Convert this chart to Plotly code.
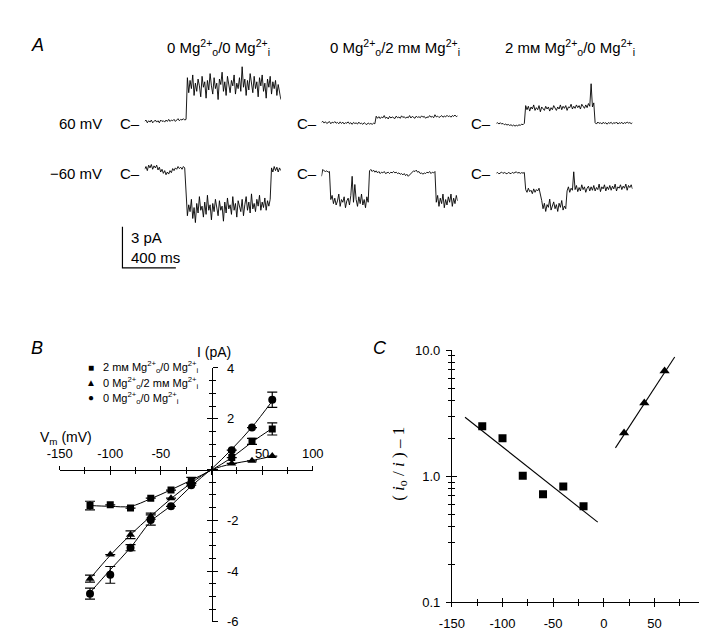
import plotly.graph_objects as go

W, H = 707, 635
def fx(p): return p / W
def fy(p): return 1 - p / H

FONT = "Liberation Sans, Arial, Helvetica, sans-serif"
SAMPLE_MS = 10

# ---------------- Panel A: single-channel records (pA, relative to closed level C) ----------------
rec_60_0o_0i = [0.0, 0.1, -0.1, 0.05, -0.05, 0.1, -0.1, 0.0, 0.1, -0.05, 0.05, -0.1, 0.1, 0.0, 0.05, -0.05,
                0.1, 0.0, 0.15, 0.0, 0.1, 0.05, 0.15, 0.0, 0.1, 0.2, 0.05, 0.15, 0.1, 0.2, 0.1, 0.15,
                3.2, 2.1, 3.0, 2.4, 3.4, 1.9, 2.8, 2.2, 3.1, 2.6, 1.8, 3.3, 2.5, 2.9, 1.7, 3.0, 2.3, 3.5, 2.6, 2.0,
                3.2, 2.4, 2.8, 1.6, 3.1, 2.7, 3.6, 2.2, 2.9, 1.9,
                3.3, 2.5, 2.1, 3.0, 2.6, 3.4, 2.0, 2.8, 2.4, 3.2, 2.2, 4.0, 2.5, 3.1, 1.9, 3.0, 2.3, 3.5, 2.7, 2.1,
                3.3, 2.4, 2.9, 1.8, 3.2, 2.6, 3.4, 2.2, 2.8, 1.7, 3.1, 2.5, 3.3, 2.0, 2.9, 2.4, 3.0, 1.9, 2.7, 2.2, 1.6]
rec_m60_0o_0i = [0.0, 0.2, -0.1, 0.3, 0.1, 0.35, 0.0, 0.25, 0.1, 0.3, -0.05, 0.15, -0.2, 0.0, -0.3, -0.1,
                 -0.4, -0.2, -0.35, -0.1, -0.25, 0.05, -0.1, 0.1, 0.0, 0.2, 0.05, 0.15, 0.0, 0.2, 0.1,
                 -2.3, -3.4, -2.6, -3.1, -2.2, -3.6, -2.8, -3.9, -2.5, -3.2, -2.0, -3.0, -2.7, -3.5, -2.4, -3.3,
                 -1.9, -3.0, -2.6, -3.7,
                 -2.5, -3.1, -2.2, -2.9, -3.4, -2.3, -3.0, -2.7, -3.8, -2.4, -3.2, -2.1, -2.9, -2.6, -3.3, -2.0,
                 -3.0, -2.5, -3.5, -2.3,
                 -2.8, -3.1, -2.2, -3.4, -2.6, -2.0, -3.0, -2.4, -3.2, -1.8, -2.9, -2.5, -3.1, -2.2, -2.7, -1.9,
                 -3.0, -2.4, -2.8, -2.1,
                 -3.0, -2.3, -2.7, -2.2,
                 0.1, -0.2, 0.2, -0.1, 0.15, -0.2, 0.1, -0.1]
rec_60_0o_2i = [0.0, 0.08, -0.05, 0.05, -0.08, 0.0, 0.06, -0.1, 0.02, -0.04, 0.06, -0.06, 0.0, -0.1, 0.04, -0.08,
                0.02, -0.12, -0.02, -0.06, 0.04, -0.1, -0.02, -0.14, 0.0, -0.08, -0.04, -0.12, 0.02, -0.1, -0.06,
                -0.14, -0.02, -0.1, -0.16, -0.04, -0.12, -0.08, -0.14, -0.06, -0.1,
                0.45, 0.3, 0.42, 0.28, 0.4, 0.33, 0.5, 0.3, 0.38, 0.25, 0.44, 0.32, 0.4, 0.36, 0.28, 0.46, 0.34,
                0.4, 0.3, 0.48,
                0.36, 0.42, 0.3, 0.4, 0.34, 0.5, 0.32, 0.44, 0.38, 0.3, 0.46, 0.36, 0.42, 0.34, 0.48, 0.38, 0.44,
                0.3, 0.4, 0.36,
                0.5, 0.38, 0.44, 0.34, 0.56, 0.4, 0.46, 0.36, 0.42, 0.5, 0.38, 0.46, 0.4, 0.52, 0.42, 0.48, 0.38,
                0.5, 0.44, 0.54, 0.42, 0.48]
rec_m60_0o_2i = [-0.3, 0.2, 0.1, 0.05, 0.1, 0.0, 0.05,
                 -2.0, -1.7, -2.3, -1.9, -2.4, -2.1, -1.6, -2.5, -2.0, -2.2, -1.8, -2.6, -2.1, -1.9, -2.4, -1.7,
                 -0.3, -2.2, -0.9, -2.0, -2.5, -1.8, -2.3, -1.6, -2.4, -2.0, -2.6, -1.8, -2.2,
                 0.1, 0.2, 0.05, 0.15, 0.0, 0.1, -0.05, 0.05, -0.1, 0.0, -0.05, 0.05, -0.1, -0.05, 0.0, -0.1,
                 0.0, -0.05, 0.05, -0.05,
                 0.0, -0.1, -0.05, -0.15, -0.1, -0.2, -0.1, -0.25, -0.15, -0.3, -0.2, -0.1, 0.0, 0.1, 0.05, 0.15,
                 0.0, 0.05, -0.1, -0.05,
                 -0.15, -0.05, -0.1, 0.0, -0.05, 0.05, -0.1, 0.0, -0.05, 0.05,
                 -2.2, -1.7, -2.5, -1.9, -2.3, -1.6, -2.6, -2.0, -2.4, -1.8, -2.2, -1.6, -2.5, -1.9, -2.3, -1.7, -2.1]
rec_60_2o_0i = [0.0, 0.05, -0.05, 0.05, -0.05, 0.0, -0.1, -0.05, -0.12, -0.08, -0.15, -0.1, -0.18, -0.12, -0.2,
                -0.14, -0.18, -0.1, -0.15, -0.05, -0.1, 0.0,
                1.3, 1.0, 1.25, 0.9, 1.2, 1.05, 1.35, 0.95, 1.15, 1.0, 1.3, 0.85, 1.2, 1.1, 0.95, 1.25, 1.05, 1.2,
                0.9, 1.15,
                1.0, 1.3, 1.1, 0.95, 1.2, 1.05, 1.35, 1.0, 1.25, 1.1, 1.3, 0.95, 1.2, 1.15, 1.4, 1.05, 1.25, 1.1,
                1.35, 1.15,
                1.3, 1.05, 1.4, 1.2, 1.1, 1.35, 1.15, 1.45, 1.25, 2.9, 1.2, 1.5,
                0.05, -0.05, 0.1, 0.0, 0.05, -0.05, 0.08, 0.0, 0.05, -0.06, 0.06, 0.0, 0.08, -0.04, 0.05, 0.0, 0.1,
                -0.05, 0.05, 0.0, 0.08, -0.04, 0.06, 0.0, 0.1, 0.02, 0.06, -0.02, 0.05]
rec_m60_2o_0i = [0.0, 0.05, -0.05, 0.0, 0.08, -0.02, 0.05, 0.0, -0.05, 0.05, 0.02, -0.04, 0.06, 0.0, 0.05, 0.1,
                 0.0, 0.06, -0.02, 0.04, 0.0, 0.05,
                 -1.2, -1.4, -1.1, -1.35, -1.25, -1.5, -1.15, -1.4, -1.2, -1.3, -1.1, -1.45,
                 -2.0, -2.6, -2.2, -2.8, -2.3, -2.5, -1.9, -2.7, -2.4, -2.1, -2.6, -2.3, -2.8, -2.2, -2.5, -2.0,
                 -2.7, -2.4, -2.6,
                 -1.3, -1.0, -1.4, -1.1, -1.25, 0.1, -1.2, -0.9, -1.35, -1.05, -1.3, -0.85, -1.2, -1.0, -1.4, -1.1,
                 -0.95, -1.3, -1.0, -1.25,
                 -0.9, -1.3, -1.05, -1.2, -0.8, -1.35, -1.0, -1.15, -0.85, -1.3, -1.0, -1.2, -0.9, -1.25, -0.95,
                 -1.15, -0.8, -1.3, -1.0, -1.1,
                 -0.85, -1.2, -0.95, -1.1, -0.8, -1.25, -0.9, -1.05, -0.85, -1.15]

MM = "m\u1d0d"
col_titles = ["0 Mg<sup>2+</sup><sub>o</sub>/0 Mg<sup>2+</sup><sub>i</sub>",
              "0 Mg<sup>2+</sup><sub>o</sub>/2 " + MM + " Mg<sup>2+</sup><sub>i</sub>",
              "2 " + MM + " Mg<sup>2+</sup><sub>o</sub>/0 Mg<sup>2+</sup><sub>i</sub>"]
row_labels = ["60 mV", "\u221260 mV"]
SCALE_PA = 3
SCALE_MS = 400

# ---------------- Panel B: I-V relations ----------------
vm_b = [-120, -100, -80, -60, -40, -20, 20, 40, 60]
i_2o0i = [-1.42, -1.39, -1.52, -1.13, -0.81, -0.43, 0.47, 1.11, 1.60]
e_2o0i = [0.17, None, None, None, None, 0.12, None, 0.12, 0.24]
i_0o2i = [-4.30, -3.35, -2.57, -1.84, -1.13, -0.53, 0.24, 0.34, 0.53]
e_0o2i = [0.14, None, 0.15, 0.12, None, None, None, None, None]
i_0o0i = [-4.89, -4.15, -3.08, -1.99, -1.45, -0.62, 0.76, 1.65, 2.75]
e_0o0i = [0.22, 0.33, 0.12, 0.2, None, None, None, None, 0.3]
vm_fit = [-120, -100, -80, -60, -40, -20, 0, 20, 40, 60]
fit_2o0i = [-1.42, -1.45, -1.45, -1.15, -0.80, -0.42, -0.02, 0.47, 1.08, 1.62]
fit_0o2i = [-4.30, -3.38, -2.57, -1.84, -1.15, -0.53, -0.02, 0.22, 0.36, 0.52]
fit_0o0i = [-4.85, -3.95, -3.08, -2.05, -1.42, -0.65, 0.02, 0.80, 1.67, 2.70]
legend_labels = ["2 " + MM + " Mg<sup>2+</sup><sub>o</sub>/0 Mg<sup>2+</sup><sub>i</sub>",
                 "0 Mg<sup>2+</sup><sub>o</sub>/2 " + MM + " Mg<sup>2+</sup><sub>i</sub>",
                 "0 Mg<sup>2+</sup><sub>o</sub>/0 Mg<sup>2+</sup><sub>i</sub>"]
legend_symbols = ["\u25a0", "\u25b2", "\u25cf"]

# ---------------- Panel C: (io/i)-1 vs Vm ----------------
vm_c_sq = [-120, -100, -80, -60, -40, -20]
ratio_sq = [2.50, 2.00, 1.01, 0.72, 0.83, 0.58]
vm_c_tri = [20, 40, 60]
ratio_tri = [2.21, 3.81, 6.85]
fitc_sq_v = [-137, -6]
fitc_sq = [2.94, 0.433]
fitc_tri_v = [11.5, 70]
fitc_tri = [1.68, 8.84]

# ================= figure =================
fig = go.Figure()
layout = dict(width=W, height=H, margin=dict(l=0, r=0, t=0, b=0, pad=0),
              paper_bgcolor="white", plot_bgcolor="rgba(0,0,0,0)", showlegend=False,
              font=dict(family=FONT, size=13, color="black"))
hidden = dict(visible=False, showgrid=False, zeroline=False, fixedrange=True)

# Panel A layout geometry
cols_px = [(128, 269), (311, 452), (492, 633)]
PX_PER_PA = 14
rows = [(45, 132, [109, 110, 111], [rec_60_0o_0i, rec_60_0o_2i, rec_60_2o_0i]),
        (138, 226, [158, 161, 162], [rec_m60_0o_0i, rec_m60_0o_2i, rec_m60_2o_0i])]
n = 1
for top, bot, bases, recs in rows:
    for c, (x0, x1) in enumerate(cols_px):
        sfx = "" if n == 1 else str(n)
        rec = recs[c]
        layout["xaxis" + sfx] = dict(hidden, domain=[fx(x0), fx(x1)],
                                     range=[0, SAMPLE_MS * (len(rec) - 1)], anchor="y" + sfx)
        base = bases[c]
        layout["yaxis" + sfx] = dict(hidden, domain=[fy(bot), fy(top)],
                                     range=[-(bot - base) / PX_PER_PA, (base - top) / PX_PER_PA],
                                     anchor="x" + sfx)
        fig.add_trace(go.Scatter(y=rec, x0=0, dx=SAMPLE_MS, mode="lines",
                                 line=dict(color="black", width=0.9),
                                 xaxis="x" + sfx, yaxis="y" + sfx, hoverinfo="skip"))
        n += 1

# scale bar (same scales as the records)
s = (cols_px[0][1] - cols_px[0][0]) / (SAMPLE_MS * (len(rec_60_0o_0i) - 1))
bx, by = 105, 259
layout["xaxis7"] = dict(hidden, domain=[fx(bx - 10 * s), fx(bx + (SCALE_MS + 10) * s)],
                        range=[-10, SCALE_MS + 10], anchor="y7")
layout["yaxis7"] = dict(hidden, domain=[fy(by + 0.2 * PX_PER_PA), fy(by - (SCALE_PA + 0.2) * PX_PER_PA)],
                        range=[-0.2, SCALE_PA + 0.2], anchor="x7")
fig.add_trace(go.Scatter(x=[0, 0, SCALE_MS], y=[SCALE_PA, 0, 0], mode="lines",
                         line=dict(color="black", width=1.2), xaxis="x7", yaxis="y7", hoverinfo="skip"))

# Panel B axes (crossing at origin); 8 = main, 9 = overlay (for crossing ticks)
bx_dom = [fx(40), fx(302)]
by_dom = [fy(621.5), fy(361.5)]
xb_common = dict(domain=bx_dom, range=[-150, 100], anchor="free", position=fy(465.5), side="top",
                 showgrid=False, zeroline=False, fixedrange=True,
                 tickvals=[-150, -100, -50, 0, 50, 100], ticklen=4, tickwidth=1, tickcolor="black")
layout["xaxis8"] = dict(xb_common, showline=True, linecolor="black", linewidth=1, ticks="outside",
                        ticktext=["-150", "-100", "-50", "", "50", "100"], tickfont=dict(size=13),
                        ticklabelstandoff=2,
                        minor=dict(dtick=25, tick0=0, ticks="outside", ticklen=3, tickcolor="black"))
layout["xaxis9"] = dict(xb_common, overlaying="x8", showline=False, ticks="inside", showticklabels=False,
                        minor=dict(dtick=25, tick0=0, ticks="inside", ticklen=3, tickcolor="black"))
yb_common = dict(domain=by_dom, range=[-6, 4], anchor="free", position=fx(198), side="right",
                 showgrid=False, zeroline=False, fixedrange=True,
                 tickvals=[-6, -4, -2, 0, 2, 4], ticklen=5, tickwidth=1, tickcolor="black")
layout["yaxis8"] = dict(yb_common, showline=True, linecolor="black", linewidth=1, ticks="outside",
                        ticktext=["-6", "-4", "-2", "", "2", "4"], tickfont=dict(size=13),
                        ticklabelstandoff=6,
                        minor=dict(dtick=0.5, tick0=0, ticks="outside", ticklen=3, tickcolor="black"))
layout["yaxis9"] = dict(yb_common, overlaying="y8", showline=False, ticks="inside", showticklabels=False,
                        minor=dict(dtick=0.5, tick0=0, ticks="inside", ticklen=3, tickcolor="black"))

for fit in (fit_2o0i, fit_0o2i, fit_0o0i):
    fig.add_trace(go.Scatter(x=vm_fit, y=fit, mode="lines", line=dict(color="black", width=1, shape="spline"),
                             xaxis="x9", yaxis="y9", hoverinfo="skip"))
for vals, errs, sym, size in ((i_2o0i, e_2o0i, "square", 7), (i_0o2i, e_0o2i, "triangle-up", 8),
                              (i_0o0i, e_0o0i, "circle", 8)):
    fig.add_trace(go.Scatter(x=vm_b, y=vals, mode="markers",
                             marker=dict(symbol=sym, size=size, color="black"),
                             error_y=dict(type="data", array=errs, visible=True, color="black",
                                          thickness=1.2, width=5),
                             xaxis="x8", yaxis="y8", hoverinfo="skip"))

# Panel C axes; 10 = main, 11 = overlay
cx_dom = [fx(446), 1.0]
cy_dom = [fy(601.7), fy(343.3)]
PX_PER_MV_C = 1.0485
xr_c = [-150, -150 + (W - 446) / PX_PER_MV_C]
xc_common = dict(domain=cx_dom, range=xr_c, showgrid=False, zeroline=False, fixedrange=True, side="bottom",
                 tickvals=[-150, -100, -50, 0, 50], ticklen=4, tickwidth=1, tickcolor="black")
layout["xaxis10"] = dict(xc_common, anchor="y10", showline=True, linecolor="black", linewidth=1,
                         ticks="outside", tickfont=dict(size=13), ticklabelstandoff=5,
                         ticktext=["-150", "-100", "-50", "0", "50"],
                         minor=dict(dtick=25, tick0=0, ticks="outside", ticklen=3, tickcolor="black"))
layout["xaxis11"] = dict(xc_common, anchor="y11", overlaying="x10", showline=False, ticks="inside",
                         showticklabels=False,
                         minor=dict(dtick=25, tick0=0, ticks="inside", ticklen=3, tickcolor="black"))
minor_log = [0.2, 0.3, 0.4, 0.5, 0.6, 0.7, 0.8, 0.9, 2, 3, 4, 5, 6, 7, 8, 9]
yc_common = dict(type="log", domain=cy_dom, range=[-1, 1], showgrid=False, zeroline=False, fixedrange=True,
                 side="left", tickvals=[0.1, 1, 10], ticklen=5, tickwidth=1, tickcolor="black")
layout["yaxis10"] = dict(yc_common, anchor="x10", showline=True, linecolor="black", linewidth=1,
                         ticks="outside", ticktext=["0.1", "1.0", "10.0"], tickfont=dict(size=13),
                         ticklabelstandoff=3,
                         minor=dict(tickvals=minor_log, ticks="outside", ticklen=3, tickcolor="black"))
layout["yaxis11"] = dict(yc_common, anchor="x11", overlaying="y10", showline=False, ticks="inside",
                         showticklabels=False,
                         minor=dict(tickvals=minor_log, ticks="inside", ticklen=3, tickcolor="black"))

fig.add_trace(go.Scatter(x=fitc_sq_v, y=fitc_sq, mode="lines", line=dict(color="black", width=1.1),
                         xaxis="x11", yaxis="y11", hoverinfo="skip"))
fig.add_trace(go.Scatter(x=fitc_tri_v, y=fitc_tri, mode="lines", line=dict(color="black", width=1.1),
                         xaxis="x11", yaxis="y11", hoverinfo="skip"))
fig.add_trace(go.Scatter(x=vm_c_sq, y=ratio_sq, mode="markers", marker=dict(symbol="square", size=8, color="black"),
                         xaxis="x10", yaxis="y10", hoverinfo="skip"))
fig.add_trace(go.Scatter(x=vm_c_tri, y=ratio_tri, mode="markers",
                         marker=dict(symbol="triangle-up", size=9, color="black"),
                         xaxis="x10", yaxis="y10", hoverinfo="skip"))

# ---------------- annotations ----------------
ann = []
def text(x, y, t, size=13, xanchor="center", yanchor="middle", **kw):
    ann.append(dict(x=fx(x), y=fy(y), xref="paper", yref="paper", text=t, showarrow=False,
                    xanchor=xanchor, yanchor=yanchor, font=dict(family=FONT, size=size, color="black"), **kw))

AFONT = 15
text(8, 31, "<i>A</i>", size=18, xanchor="left")
for (x0, x1), t in zip(cols_px, col_titles):
    text((x0 + x1) / 2 + 6, 33, t, size=AFONT)
text(86, 111, row_labels[0], size=AFONT, xanchor="right")
text(86, 162, row_labels[1], size=AFONT, xanchor="right")
for (x0, x1) in cols_px:
    text(x0 - 3, 111, "C\u2013", size=AFONT, xanchor="right")
    text(x0 - 3, 162, "C\u2013", size=AFONT, xanchor="right")
text(112, 228, f"{SCALE_PA} pA", size=AFONT, xanchor="left")
text(112, 248, f"{SCALE_MS} ms", size=AFONT, xanchor="left")

text(8, 341, "<i>B</i>", size=18, xanchor="left")
for k, (sym, lab) in enumerate(zip(legend_symbols, legend_labels)):
    yy = 361 + 15.5 * k
    text(72, yy, sym, size=10)
    text(83, yy, lab, size=11, xanchor="left")
text(18, 433, "V<sub>m</sub> (mV)", size=14, xanchor="left")
text(200, 345, "I (pA)", size=14)

text(362, 341, "<i>C</i>", size=18, xanchor="left")
ann.append(dict(x=fx(392), y=fy(460), xref="paper", yref="paper", showarrow=False, textangle=-90,
                text="( <i>i</i><sub>o</sub> / <i>i</i> ) \u2013 1",
                font=dict(family="Liberation Serif, Times New Roman, serif", size=17, color="black"),
                xanchor="center", yanchor="middle"))
text(703, 622, "100", size=13, xanchor="left")

layout["annotations"] = ann
fig.update_layout(**layout)
fig.write_html("out.html")
